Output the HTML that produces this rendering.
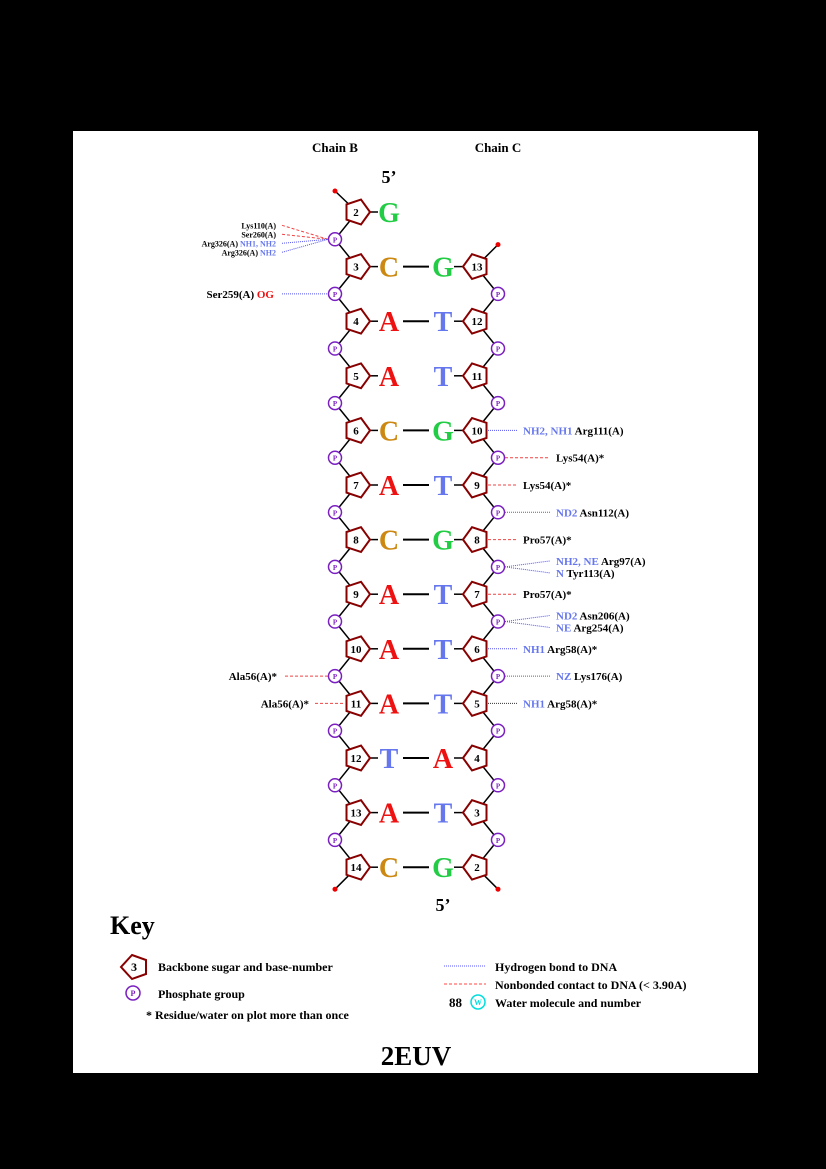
<!DOCTYPE html>
<html><head><meta charset="utf-8"><style>
html,body{margin:0;padding:0;background:#000;}
svg{display:block;font-family:"Liberation Serif",serif;font-weight:bold;}
</style></head><body>
<svg id="s" width="826" height="1169" viewBox="0 0 826 1169" xmlns="http://www.w3.org/2000/svg">
<rect x="0" y="0" width="826" height="1169" fill="#000"/>
<rect x="73" y="131" width="685" height="942" fill="#fff"/>
<text x="335" y="152" font-size="13" text-anchor="middle">Chain B</text>
<text x="498" y="152" font-size="13" text-anchor="middle">Chain C</text>
<text x="389" y="183" font-size="18" text-anchor="middle">5’</text>
<text x="443" y="911" font-size="18" text-anchor="middle">5’</text>
<g id="g"></g>
<text x="110" y="934" font-size="26">Key</text>
<polygon points="132,955 146,960 146,974 132,979 121,967" fill="#fff" stroke="#800" stroke-width="2"/>
<text x="134" y="971" font-size="12" text-anchor="middle">3</text>
<text x="158" y="971" font-size="12">Backbone sugar and base-number</text>
<circle cx="133" cy="993" r="7" fill="#fff" stroke="#7a1fc0" stroke-width="1.5"/>
<text x="133" y="996" font-size="8" fill="#7a1fc0" text-anchor="middle">P</text>
<text x="158" y="998" font-size="12">Phosphate group</text>
<text x="146" y="1019" font-size="12">* Residue/water on plot more than once</text>
<line x1="444" y1="966" x2="486" y2="966" stroke="#55f" stroke-width="1" stroke-dasharray="1,1"/>
<text x="495" y="971" font-size="12">Hydrogen bond to DNA</text>
<line x1="444" y1="984" x2="486" y2="984" stroke="#f44" stroke-width="1" stroke-dasharray="3,2"/>
<text x="495" y="989" font-size="12">Nonbonded contact to DNA (&lt; 3.90A)</text>
<text x="449" y="1007" font-size="13">88</text>
<circle cx="478" cy="1002" r="7" fill="#fff" stroke="#0dd" stroke-width="1.5"/>
<text x="478" y="1005" font-size="8" fill="#0dd" text-anchor="middle">W</text>
<text x="495" y="1007" font-size="12">Water molecule and number</text>
<text x="416" y="1065" font-size="27" text-anchor="middle">2EUV</text>
</svg>
<script>
const leftNums=[2,3,4,5,6,7,8,9,10,11,12,13,14];
const leftBases=["G","C","A","A","C","A","C","A","A","A","T","A","C"];
const rightBases=["","G","T","T","G","T","G","T","T","T","A","T","G"];
const rightNums=[null,13,12,11,10,9,8,7,6,5,4,3,2];
const pairLine=[false,true,true,false,true,true,true,true,true,true,true,true,true];
const contacts=[
 ["L",0.5,"Lys110(A)","","nb",-14],["L",0.5,"Ser260(A)","","nb",-5],
 ["L",0.5,"Arg326(A) ","NH1, NH2","hb",4],["L",0.5,"Arg326(A) ","NH2","hb",13],
 ["L",1.5,"Ser259(A) ","OG","hbr",0],
 ["R",4,"Arg111(A)","NH2, NH1 ","hb",0],["R",4.5,"Lys54(A)*","","nb",0],
 ["R",5,"Lys54(A)*","","nb",0],["R",5.5,"Asn112(A)","ND2 ","hb",0],
 ["R",6,"Pro57(A)*","","nb",0],["R",6.5,"Arg97(A)","NH2, NE ","hb",-6],
 ["R",6.5,"Tyr113(A)","N ","hb",6],["R",7,"Pro57(A)*","","nb",0],
 ["R",7.5,"Asn206(A)","ND2 ","hb",-6],["R",7.5,"Arg254(A)","NE ","hb",6],
 ["R",8,"Arg58(A)*","NH1 ","hb",0],["R",8.5,"Lys176(A)","NZ ","hb",0],
 ["R",9,"Arg58(A)*","NH1 ","hbk",0],
 ["L",8.5,"Ala56(A)*","","nb",0],["L",9,"Ala56(A)*","","nb",0]
];
const colors={G:"#22cc44",C:"#cc8811",A:"#ee1111",T:"#6677ee"};
const NS="http://www.w3.org/2000/svg";
const g=document.getElementById('g');
const y0=212,dy=54.6,xLP=335,xLS=357,xRS=476,xRP=498,xLB=389,xRB=443;
const Y=i=>y0+i*dy;
function mk(tag,attrs,parent){const e=document.createElementNS(NS,tag);for(const k in attrs)e.setAttribute(k,attrs[k]);(parent||g).appendChild(e);return e;}
function line(x1,y1,x2,y2,st,w,da){const l=mk('line',{x1,y1,x2,y2,stroke:st,'stroke-width':w||1.5});if(da)l.setAttribute('stroke-dasharray',da);return l;}
function pent(cx,cy,dir){let pts=[];for(let k=0;k<5;k++){const a=(dir>0?0:Math.PI)+k*2*Math.PI/5;pts.push((cx+13*Math.cos(a)).toFixed(1)+","+(cy+13*Math.sin(a)).toFixed(1));}
 return mk('polygon',{points:pts.join(" "),fill:"#fff",stroke:"#800","stroke-width":2});}
const n=leftNums.length;
const yTopL=Y(0)-21, yBot=Y(n-1)+22, yTopR=Y(1)-22;
let bl=line(xLP,yTopL,xLS,Y(0),"#000",1.5);


for(let i=0;i<n;i++){
 const last=i===n-1;
 const a=line(xLS,Y(i),xLP,last?yBot:Y(i)+dy/2,"#000",1.5);
 
 
 if(!last){const b=line(xLP,Y(i)+dy/2,xLS,Y(i+1),"#000",1.5);
 
 }
 if(i>=1){const c=line(xRP,i===1?yTopR:Y(i)-dy/2,xRS,Y(i),"#000",1.5);
 
 
 const d=line(xRS,Y(i),xRP,last?yBot:Y(i)+dy/2,"#000",1.5);
 
 }
}
const dots=[[xLP,yTopL],[xLP,yBot],[xRP,yTopR],[xRP,yBot]];
dots.forEach(d=>{const c=mk('circle',{cx:d[0],cy:d[1],r:2.5,fill:"#e00"});
 
 });
contacts.forEach(c=>{
 const side=c[0],r=c[1],isP=r%1!==0;
 const col=c[4]==="nb"?"#ee4444":(c[4]==="hbk"?"#333":"#5555ee");
 const da=c[4]==="nb"?"3,2":"1,1";
 let x1,x2;
 if(side==="L"){x2=isP?xLP-7:xLS-13;x1=isP?282:315;if(r===8.5)x1=285;}
 else{x1=isP?xRP+7:xRS+12;x2=isP?550:517;}
 const yt=(side==="L"&&r===0.5)?Y(r)+c[5]:Y(r)+(isP&&side==="R"?c[5]:0);
 const ys=Y(r);
 const l=side==="L"?line(x1,yt,x2,ys,col,1,da):line(x1,ys,x2,yt,col,1,da);
 
 
 const t=mk('text',{'font-size':side==="L"&&r===0.5?8:11});
 
 
 const ty=yt+4;
 if(side==="L"){
  t.setAttribute('x',r===0.5?276:(r===1.5?274:(r===8.5?277:309)));t.setAttribute('y',r===0.5?yt+3:ty);t.setAttribute('text-anchor','end');
  const s1=mk('tspan',{fill:"#000"},t);s1.textContent=c[2];
  if(c[3]){const s2=mk('tspan',{fill:c[4]==="hbr"?"#ee1111":"#6677ee"},t);s2.textContent=c[3];}
 }else{
  t.setAttribute('x',x2+6);t.setAttribute('y',ty);
  if(c[3]){const s2=mk('tspan',{fill:"#6677ee"},t);s2.textContent=c[3];}
  const s1=mk('tspan',{fill:"#000"},t);s1.textContent=c[2];
 }
});
function phos(cx,cy){const c=mk('circle',{cx,cy,r:6.5,fill:"#fff",stroke:"#7a1fc0","stroke-width":1.5});
 
 
 const t=mk('text',{x:cx,y:cy+3,'font-size':7,fill:"#7a1fc0",'text-anchor':"middle"});t.textContent="P";}
for(let i=0;i<n-1;i++){phos(xLP,Y(i)+dy/2);if(i>=1)phos(xRP,Y(i)+dy/2);}
for(let i=0;i<n;i++){
 const y=Y(i);
 const ln=line(xLS+12,y,xLB-11,y,"#000",1.5);
 
 
 const p=pent(xLS,y,1);
 
 
 const t=mk('text',{x:xLS-1,y:y+4,'font-size':11,'text-anchor':"middle"});t.textContent=leftNums[i];
 const b=mk('text',{x:xLB,y:y+10,'font-size':28,fill:colors[leftBases[i]],'text-anchor':"middle"});b.textContent=leftBases[i];
 
 
 if(rightNums[i]!==null){
  const rl=line(xRB+11,y,xRS-12,y,"#000",1.5);
  
  
  const rp=pent(xRS,y,-1);
  
  
  const rt=mk('text',{x:xRS+1,y:y+4,'font-size':11,'text-anchor':"middle"});rt.textContent=rightNums[i];
  const rb=mk('text',{x:xRB,y:y+10,'font-size':28,fill:colors[rightBases[i]],'text-anchor':"middle"});rb.textContent=rightBases[i];
  
  
  if(pairLine[i]){const pl=line(xLB+14,y,xRB-14,y,"#000",2);
   
   }
 }
}
</script>
</body></html>
